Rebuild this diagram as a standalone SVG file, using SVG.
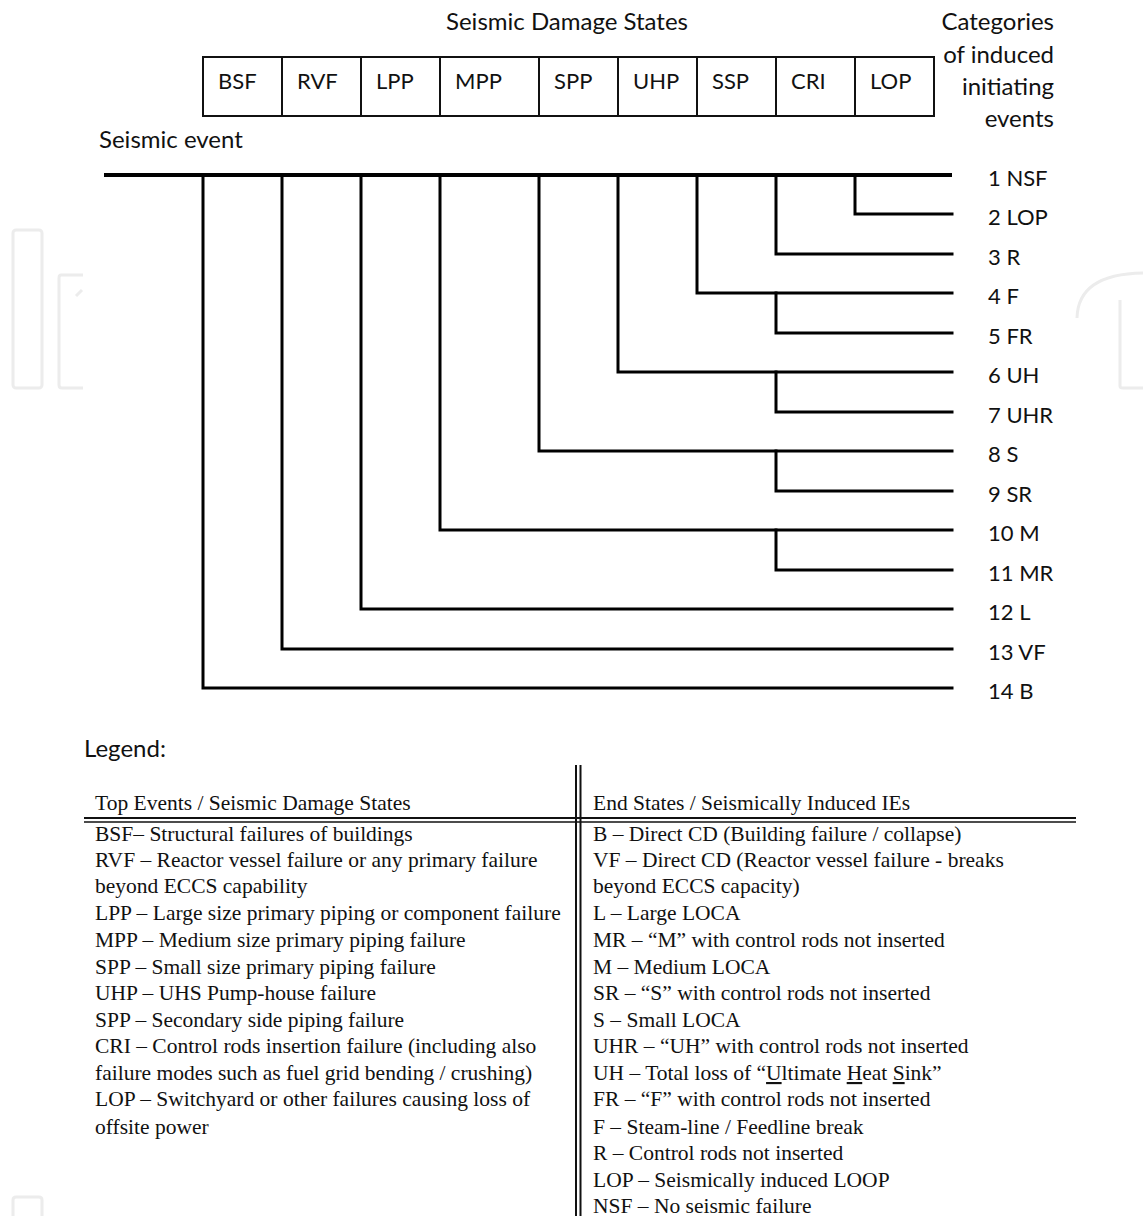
<svg xmlns="http://www.w3.org/2000/svg" width="1143" height="1216" viewBox="0 0 1143 1216">
<style>
.sans{font-family:Lato,"Open Sans","Liberation Sans",sans-serif;font-size:24px;fill:#111}
.cap{font-family:Lato,"Open Sans","Liberation Sans",sans-serif;font-size:22px;fill:#111}
.serif{font-family:"Liberation Serif","DejaVu Serif",serif;font-size:21.5px;fill:#111}
.box{fill:none;stroke:#111;stroke-width:2}
.tree{fill:none;stroke:#000;stroke-width:3;stroke-linecap:square}
.wm{fill:none;stroke:#ececec;stroke-width:3}
.tl{stroke:#111;fill:none}
</style>
<rect width="1143" height="1216" fill="#fff"/>
<g id="watermark">
<rect class="wm" x="13" y="230" width="29" height="158" rx="3"/>
<path class="wm" d="M83 275 H61 Q59 275 59 278 V385 Q59 388 62 388 H83"/>
<path class="wm" d="M76 296 L82 290"/>
<path class="wm" d="M1077 318 Q1078 274 1143 273"/>
<path class="wm" d="M1120 300 V386 Q1120 388 1123 388 H1143"/>
<path class="wm" d="M13 1216 V1200 Q13 1197 16 1197 H39 Q42 1197 42 1200 V1216"/>
</g>
<g id="header">
<text class="sans" x="567" y="30" text-anchor="middle">Seismic Damage States</text>
<text class="sans" x="1054" y="30" text-anchor="end">Categories</text>
<text class="sans" x="1054" y="63" text-anchor="end">of induced</text>
<text class="sans" x="1054" y="95" text-anchor="end">initiating</text>
<text class="sans" x="1054" y="127" text-anchor="end">events</text>
<text class="sans" x="99" y="148">Seismic event</text>
</g>
<g id="damage-states">
<rect class="box" x="203" y="57" width="731" height="59"/>
<path class="box" d="M282 57V116M361 57V116M440 57V116M539 57V116M618 57V116M697 57V116M776 57V116M855 57V116"/>
<text class="cap" x="218" y="89">BSF</text>
<text class="cap" x="297" y="89">RVF</text>
<text class="cap" x="376" y="89">LPP</text>
<text class="cap" x="455" y="89">MPP</text>
<text class="cap" x="554" y="89">SPP</text>
<text class="cap" x="633" y="89">UHP</text>
<text class="cap" x="712" y="89">SSP</text>
<text class="cap" x="791" y="89">CRI</text>
<text class="cap" x="870" y="89">LOP</text>
</g>
<g id="connectors">
<path d="M104 175H952" stroke="#000" stroke-width="4" fill="none"/>
<path class="tree" d="M855 175V214H952"/>
<path class="tree" d="M776 175V254H952"/>
<path class="tree" d="M697 175V293H952"/>
<path class="tree" d="M776 293V333H952"/>
<path class="tree" d="M618 175V372H952"/>
<path class="tree" d="M776 372V412H952"/>
<path class="tree" d="M539 175V451H952"/>
<path class="tree" d="M776 451V491H952"/>
<path class="tree" d="M440 175V530H952"/>
<path class="tree" d="M776 530V570H952"/>
<path class="tree" d="M361 175V609H952"/>
<path class="tree" d="M282 175V649H952"/>
<path class="tree" d="M203 175V688H952"/>
</g>
<g id="end-states">
<text class="cap" x="988" y="186">1 NSF</text>
<text class="cap" x="988" y="225">2 LOP</text>
<text class="cap" x="988" y="265">3 R</text>
<text class="cap" x="988" y="304">4 F</text>
<text class="cap" x="988" y="344">5 FR</text>
<text class="cap" x="988" y="383">6 UH</text>
<text class="cap" x="988" y="423">7 UHR</text>
<text class="cap" x="988" y="462">8 S</text>
<text class="cap" x="988" y="502">9 SR</text>
<text class="cap" x="988" y="541">10 M</text>
<text class="cap" x="988" y="581">11 MR</text>
<text class="cap" x="988" y="620">12 L</text>
<text class="cap" x="988" y="660">13 VF</text>
<text class="cap" x="988" y="699">14 B</text>
</g>
<g id="legend">
<text class="sans" x="84" y="757">Legend:</text>
<path class="tl" stroke-width="2" d="M84 818H1076"/>
<path class="tl" stroke-width="1.6" d="M84 822H1076"/>
<path class="tl" stroke-width="2" d="M576 765V1216"/>
<path class="tl" stroke-width="2" d="M580.5 765V1216"/>
<text class="serif" x="95" y="810">Top Events / Seismic Damage States</text>
<text class="serif" x="593" y="810">End States / Seismically Induced IEs</text>
<text class="serif" x="95" y="841">BSF– Structural failures of buildings</text>
<text class="serif" x="95" y="867">RVF – Reactor vessel failure or any primary failure</text>
<text class="serif" x="95" y="893">beyond ECCS capability</text>
<text class="serif" x="95" y="920">LPP – Large size primary piping or component failure</text>
<text class="serif" x="95" y="947">MPP – Medium size primary piping failure</text>
<text class="serif" x="95" y="974">SPP – Small size primary piping failure</text>
<text class="serif" x="95" y="1000">UHP – UHS Pump-house failure</text>
<text class="serif" x="95" y="1027">SPP – Secondary side piping failure</text>
<text class="serif" x="95" y="1053">CRI – Control rods insertion failure (including also</text>
<text class="serif" x="95" y="1080">failure modes such as fuel grid bending / crushing)</text>
<text class="serif" x="95" y="1106">LOP – Switchyard or other failures causing loss of</text>
<text class="serif" x="95" y="1134">offsite power</text>
<text class="serif" x="593" y="841">B – Direct CD (Building failure / collapse)</text>
<text class="serif" x="593" y="867">VF – Direct CD (Reactor vessel failure - breaks</text>
<text class="serif" x="593" y="893">beyond ECCS capacity)</text>
<text class="serif" x="593" y="920">L – Large LOCA</text>
<text class="serif" x="593" y="947">MR – “M” with control rods not inserted</text>
<text class="serif" x="593" y="974">M – Medium LOCA</text>
<text class="serif" x="593" y="1000">SR – “S” with control rods not inserted</text>
<text class="serif" x="593" y="1027">S – Small LOCA</text>
<text class="serif" x="593" y="1053">UHR – “UH” with control rods not inserted</text>
<text class="serif" x="593" y="1080">UH – Total loss of “<tspan text-decoration="underline">U</tspan>ltimate <tspan text-decoration="underline">H</tspan>eat <tspan text-decoration="underline">S</tspan>ink”</text>
<text class="serif" x="593" y="1106">FR – “F” with control rods not inserted</text>
<text class="serif" x="593" y="1134">F – Steam-line / Feedline break</text>
<text class="serif" x="593" y="1160">R – Control rods not inserted</text>
<text class="serif" x="593" y="1187">LOP – Seismically induced LOOP</text>
<text class="serif" x="593" y="1213">NSF – No seismic failure</text>
</g>
</svg>
